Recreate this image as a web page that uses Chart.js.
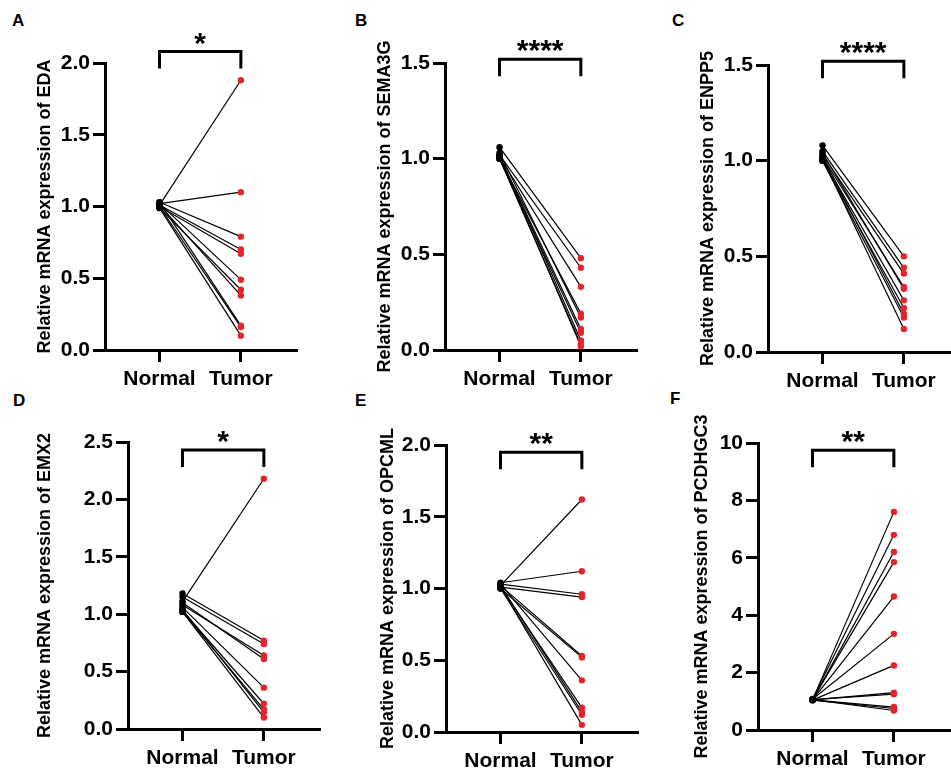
<!DOCTYPE html>
<html>
<head>
<meta charset="utf-8">
<script src="https://cdn.jsdelivr.net/npm/chart.js@4.4.1/dist/chart.umd.min.js"></script>
<style>
  html, body { margin: 0; padding: 0; background: #fff; overflow: hidden; }
  #wrap { position: relative; width: 951px; height: 772px; }
  canvas { position: absolute; }
  .tag { position: absolute; font: bold 17px "Liberation Sans", Arial, sans-serif; line-height: 1; color: #000; }
</style>
</head>
<body>
<div id="wrap">
  <div class="tag" style="left:12px;top:12px">A</div>
  <div class="tag" style="left:355px;top:12px">B</div>
  <div class="tag" style="left:672px;top:12px">C</div>
  <div class="tag" style="left:13px;top:392px">D</div>
  <div class="tag" style="left:355px;top:392px">E</div>
  <div class="tag" style="left:670px;top:390px">F</div>
</div>
<script>
// paired samples, normal -> tumor
var groups = ['Normal', 'Tumor'];

var edaNormal = [1.01, 1.02, 1.03, 1.01, 1.00, 1.02, 0.99, 1.01, 1.03, 1.00, 0.99];
var edaTumor  = [1.88, 1.10, 0.79, 0.70, 0.67, 0.49, 0.42, 0.38, 0.17, 0.16, 0.10];

var sema3gNormal = [1.06, 1.02, 1.01, 1.00, 1.03, 1.01, 1.00, 1.02, 1.00, 1.01];
var sema3gTumor  = [0.48, 0.43, 0.33, 0.19, 0.17, 0.11, 0.09, 0.05, 0.03, 0.02];

var enpp5Normal = [1.08, 1.05, 1.03, 1.02, 1.04, 1.01, 1.00, 1.02, 1.00, 1.01];
var enpp5Tumor  = [0.50, 0.44, 0.41, 0.34, 0.33, 0.27, 0.23, 0.20, 0.18, 0.12];

var emx2Normal = [1.11, 1.18, 1.15, 1.08, 1.10, 1.06, 1.03, 1.02, 1.04, 1.02];
var emx2Tumor  = [2.18, 0.77, 0.74, 0.64, 0.61, 0.36, 0.22, 0.17, 0.145, 0.10];

var opcmlNormal = [1.02, 1.04, 1.03, 1.01, 1.02, 1.00, 1.03, 1.01, 1.02, 1.00, 1.01];
var opcmlTumor  = [1.62, 1.12, 0.96, 0.94, 0.53, 0.52, 0.36, 0.17, 0.14, 0.12, 0.05];

var pcdhgc3Normal = [1.05, 1.08, 1.04, 1.06, 1.05, 1.07, 1.04, 1.05, 1.06, 1.05, 1.04, 1.06];
var pcdhgc3Tumor  = [7.6, 6.8, 6.2, 5.85, 4.65, 3.35, 2.25, 1.3, 1.25, 0.8, 0.75, 0.68];

var genes = ['EDA', 'SEMA3G', 'ENPP5', 'EMX2', 'OPCML', 'PCDHGC3'];
var yMax = [2.0, 1.5, 1.5, 2.5, 2.0, 10];
var yStep = [0.5, 0.5, 0.5, 0.5, 0.5, 2];
var signif = ['*', '****', '****', '*', '**', '**'];
var bracketAt = [2.08, 1.52, 1.52, 2.43, 1.95, 9.75];

// where each panel sits on the page
var panelPos = [
  { left: 0,   top: 0,   titleOff: 60 },
  { left: 340, top: 0,   titleOff: 60 },
  { left: 663, top: 2,   titleOff: 60 },
  { left: 23,  top: 379, titleOff: 83 },
  { left: 341, top: 382, titleOff: 58 },
  { left: 653, top: 380, titleOff: 56 }
];

Chart.defaults.font.family = '"Liberation Sans", Arial, sans-serif';
Chart.defaults.color = '#000';

var RED = '#e3242b';

var bracketPlugin = {
  id: 'bracket',
  afterDraw: function(chart, args, opts) {
    var ctx = chart.ctx;
    var xs = chart.scales.x, ys = chart.scales.y;
    var x0 = xs.getPixelForValue(0), x1 = xs.getPixelForValue(1);
    var yb = ys.getPixelForValue(opts.at);
    ctx.save();
    ctx.strokeStyle = '#000';
    ctx.lineWidth = 3;
    ctx.lineCap = 'butt';
    ctx.beginPath();
    ctx.moveTo(x0, yb + 17);
    ctx.lineTo(x0, yb);
    ctx.lineTo(x1, yb);
    ctx.lineTo(x1, yb + 17);
    ctx.stroke();
    ctx.fillStyle = '#000';
    ctx.font = 'bold 30px "Liberation Sans", Arial, sans-serif';
    ctx.textAlign = 'center';
    ctx.textBaseline = 'alphabetic';
    ctx.fillText(opts.text, (x0 + x1) / 2, yb + 1);
    ctx.restore();
  }
};

function makePanel(i, normal, tumor) {
  var pos = panelPos[i];
  var cv = document.createElement('canvas');
  cv.width = 318;
  cv.height = 400;
  cv.style.left = pos.left + 'px';
  cv.style.top = pos.top + 'px';
  document.getElementById('wrap').appendChild(cv);

  var datasets = [];
  for (var k = 0; k < normal.length; k++) {
    datasets.push({
      data: [{ x: 0, y: normal[k] }, { x: 1, y: tumor[k] }],
      borderColor: '#000',
      borderWidth: 1.2,
      pointRadius: 3.2,
      pointBorderWidth: 0,
      pointBackgroundColor: ['#000', RED],
      showLine: true
    });
  }

  new Chart(cv, {
    type: 'scatter',
    data: { datasets: datasets },
    options: {
      responsive: false,
      animation: false,
      events: [],
      layout: { padding: { top: 63, right: 21, left: 0, bottom: 0 } },
      plugins: {
        legend: { display: false },
        tooltip: { enabled: false },
        bracket: { at: bracketAt[i], text: signif[i] }
      },
      scales: {
        x: {
          type: 'linear',
          min: -0.67,
          max: 1.69,
          afterBuildTicks: function(s) { s.ticks = [{ value: 0 }, { value: 1 }]; },
          afterFit: function(s) { s.height = 50; },
          ticks: {
            font: { size: 21, weight: 'bold' },
            padding: 5,
            autoSkip: false,
            maxRotation: 0,
            callback: function(v) { return groups[v]; }
          },
          grid: { drawOnChartArea: false, tickLength: 12, tickWidth: 3, tickColor: '#000' },
          border: { display: true, width: 3, color: '#000' }
        },
        y: {
          min: 0,
          max: yMax[i],
          afterFit: function(s) { s.width = 105; },
          ticks: {
            stepSize: yStep[i],
            font: { size: 21, weight: 'bold' },
            padding: 3,
            callback: function(v) { return yStep[i] < 1 ? v.toFixed(1) : String(v); }
          },
          grid: { drawOnChartArea: false, tickLength: 12, tickWidth: 3, tickColor: '#000' },
          border: { display: true, width: 3, color: '#000' },
          title: {
            display: true,
            text: 'Relative mRNA expression of ' + genes[i],
            font: { size: 18, weight: 'bold' },
            padding: { top: 105 - pos.titleOff - 10.8, bottom: 0 }
          }
        }
      }
    },
    plugins: [bracketPlugin]
  });
}

makePanel(0, edaNormal, edaTumor);
makePanel(1, sema3gNormal, sema3gTumor);
makePanel(2, enpp5Normal, enpp5Tumor);
makePanel(3, emx2Normal, emx2Tumor);
makePanel(4, opcmlNormal, opcmlTumor);
makePanel(5, pcdhgc3Normal, pcdhgc3Tumor);
</script>
</body>
</html>
